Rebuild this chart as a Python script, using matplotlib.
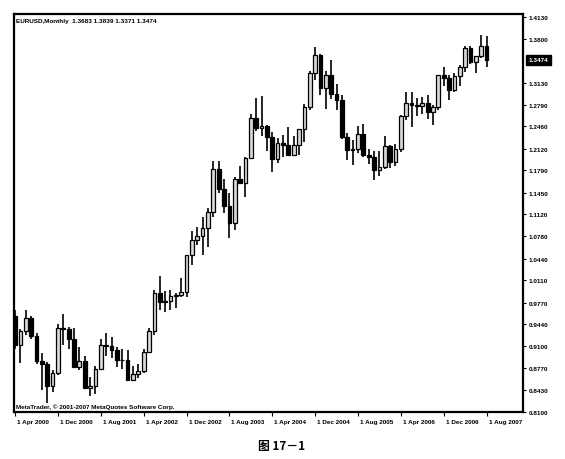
import numpy as np
import matplotlib
matplotlib.use("Agg")
import matplotlib.pyplot as plt
import matplotlib.transforms as mtransforms

# EURUSD monthly, Apr 2000 .. Aug 2007
opens = [0.9570, 0.9120, 0.9330, 0.9530, 0.9260, 0.8880, 0.8830, 0.8490, 0.8700,
         0.9390, 0.9370, 0.9210, 0.8780, 0.8880, 0.8460, 0.8490, 0.8760, 0.9120, 0.9110, 0.9040, 0.8900,
         0.8900, 0.8590, 0.8680, 0.8720, 0.9020, 0.9330, 0.9910, 0.9780, 0.9790, 0.9870, 0.9880, 0.9930,
         1.0490, 1.0730, 1.0780, 1.0910, 1.1160, 1.1810, 1.1500, 1.1240, 1.0990, 1.1650, 1.1590, 1.1980,
         1.2590, 1.2440, 1.2470, 1.2300, 1.1970, 1.2200, 1.2180, 1.2030, 1.2180, 1.2420, 1.2760, 1.3270,
         1.3550, 1.3040, 1.3250, 1.2950, 1.2870, 1.2300, 1.2100, 1.2120, 1.2340, 1.2030, 1.1990, 1.1790,
         1.1840, 1.2160, 1.1920, 1.2120, 1.2620, 1.2810, 1.2790, 1.2770, 1.2810, 1.2680, 1.2760, 1.3240,
         1.3200, 1.3010, 1.3230, 1.3360, 1.3660, 1.3450, 1.3540, 1.3683]
highs = [0.9660, 0.9360, 0.9650, 0.9570, 0.9300, 0.9000, 0.8870, 0.8740, 0.9450,
         0.9590, 0.9400, 0.9390, 0.9090, 0.8950, 0.8640, 0.8800, 0.9220, 0.9300, 0.9240, 0.9090, 0.9060,
         0.9040, 0.8800, 0.8840, 0.9060, 0.9380, 0.9960, 1.0180, 0.9940, 0.9960, 0.9910, 1.0150, 1.0500,
         1.0870, 1.0930, 1.1080, 1.1220, 1.1930, 1.1930, 1.1650, 1.1440, 1.1690, 1.1850, 1.2000, 1.2650,
         1.2900, 1.2930, 1.2480, 1.2370, 1.2280, 1.2330, 1.2450, 1.2320, 1.2420, 1.2800, 1.3300, 1.3670,
         1.3560, 1.3300, 1.3480, 1.3100, 1.2940, 1.2360, 1.2260, 1.2470, 1.2500, 1.2120, 1.2090, 1.2090,
         1.2320, 1.2180, 1.2190, 1.2640, 1.2980, 1.2980, 1.2900, 1.2910, 1.2940, 1.2780, 1.3240, 1.3370,
         1.3250, 1.3270, 1.3390, 1.3680, 1.3680, 1.3530, 1.3850, 1.3839]
lows = [0.9060, 0.8850, 0.9280, 0.9210, 0.8840, 0.8440, 0.8230, 0.8410, 0.8660,
        0.9130, 0.9060, 0.8770, 0.8740, 0.8460, 0.8340, 0.8370, 0.8740, 0.8950, 0.8930, 0.8780, 0.8760,
        0.8570, 0.8570, 0.8620, 0.8700, 0.9000, 0.9280, 0.9650, 0.9620, 0.9660, 0.9690, 0.9860, 0.9860,
        1.0340, 1.0650, 1.0500, 1.0620, 1.1080, 1.1440, 1.1140, 1.0760, 1.0880, 1.1590, 1.1380, 1.1960,
        1.2390, 1.2320, 1.2080, 1.1760, 1.1900, 1.1990, 1.2020, 1.2030, 1.2020, 1.2220, 1.2710, 1.3170,
        1.2940, 1.2720, 1.2880, 1.2710, 1.2270, 1.1950, 1.1870, 1.2050, 1.1990, 1.1880, 1.1640, 1.1700,
        1.1810, 1.1830, 1.1860, 1.2070, 1.2560, 1.2450, 1.2620, 1.2650, 1.2580, 1.2480, 1.2710, 1.3070,
        1.2870, 1.2990, 1.3080, 1.3290, 1.3410, 1.3270, 1.3510, 1.3371]
closes = [0.9120, 0.9330, 0.9530, 0.9260, 0.8880, 0.8830, 0.8490, 0.8700, 0.9390,
          0.9370, 0.9210, 0.8780, 0.8880, 0.8460, 0.8490, 0.8760, 0.9120, 0.9110, 0.9040, 0.8900, 0.8900,
          0.8590, 0.8680, 0.8720, 0.9020, 0.9330, 0.9910, 0.9780, 0.9790, 0.9870, 0.9880, 0.9930, 1.0490,
          1.0730, 1.0780, 1.0910, 1.1160, 1.1810, 1.1500, 1.1240, 1.0990, 1.1650, 1.1590, 1.1980, 1.2590,
          1.2440, 1.2470, 1.2300, 1.1970, 1.2200, 1.2180, 1.2030, 1.2180, 1.2420, 1.2760, 1.3270, 1.3550,
          1.3040, 1.3250, 1.2950, 1.2870, 1.2300, 1.2100, 1.2120, 1.2340, 1.2030, 1.1990, 1.1790, 1.1840,
          1.2160, 1.1920, 1.2120, 1.2620, 1.2810, 1.2790, 1.2770, 1.2810, 1.2680, 1.2760, 1.3240, 1.3200,
          1.3010, 1.3230, 1.3360, 1.3660, 1.3450, 1.3540, 1.3680, 1.3474]

price_ticks = [0.8100, 0.8430, 0.8770, 0.9100, 0.9440, 0.9770, 1.0110, 1.0440, 1.0780, 1.1120,
               1.1450, 1.1790, 1.2120, 1.2460, 1.2790, 1.3130, 1.3800, 1.4130]
date_labels = ["1 Apr 2000", "1 Dec 2000", "1 Aug 2001", "1 Apr 2002", "1 Dec 2002", "1 Aug 2003",
               "1 Apr 2004", "1 Dec 2004", "1 Aug 2005", "1 Apr 2006", "1 Dec 2006", "1 Aug 2007"]
date_pos = [0, 8, 16, 24, 32, 40, 48, 56, 64, 72, 80, 88]
last_price = 1.3474

plt.rcParams['font.family'] = ['Liberation Sans', 'DejaVu Sans']

o = np.array(opens)
h = np.array(highs)
l = np.array(lows)
c = np.array(closes)
idx = np.arange(len(o))
up = c >= o

fig = plt.figure(figsize=(5.65, 4.6), dpi=100)
ax = fig.add_axes([14 / 565, 1 - 413 / 460, (523 - 14) / 565, (413 - 15) / 460])

# wicks, then bodies
ax.vlines(idx, l, h, color='black', linewidth=1.2, zorder=2)
ax.bar(idx[up], (c - o)[up], bottom=o[up], width=0.7, facecolor='#d8d8d8',
       edgecolor='black', linewidth=0.9, zorder=3)
ax.bar(idx[~up], (c - o)[~up], bottom=o[~up], width=0.7, facecolor='black',
       edgecolor='black', linewidth=0.9, zorder=3)

ax.set_xlim(-0.2, 94.8)
ax.set_ylim(0.81, 1.4176)

ax.yaxis.tick_right()
ax.set_yticks(price_ticks)
ax.set_yticklabels([f"{v:.4f}" for v in price_ticks], fontsize=4.6, fontweight='bold')
ax.tick_params(axis='y', length=2, width=0.8, pad=2)

ax.set_xticks(date_pos)
ax.set_xticklabels(date_labels, fontsize=4.6, fontweight='bold', ha='left')
ax.tick_params(axis='x', length=3, width=0.8, pad=2)
for lab in ax.get_xticklabels():
    lab.set_transform(lab.get_transform() + mtransforms.ScaledTranslation(2 / 100, 0, fig.dpi_scale_trans))

for side in ['left', 'right', 'top', 'bottom']:
    ax.spines[side].set_linewidth(1.6)

# current price marker
ax.annotate(f"{last_price:.4f}", xy=(1.0, last_price), xycoords=('axes fraction', 'data'),
            xytext=(4, 0), textcoords='offset points', fontsize=4.6, fontweight='bold',
            color='white', va='center', ha='left',
            bbox=dict(boxstyle='square,pad=0.35', facecolor='black', edgecolor='black'))

ax.text(0.004, 0.99, "EURUSD,Monthly  1.3683 1.3839 1.3371 1.3474", transform=ax.transAxes,
        fontsize=4.6, fontweight='bold', va='top', ha='left')
ax.text(0.004, 0.008, "MetaTrader, \u00a9 2001-2007 MetaQuotes Software Corp.", transform=ax.transAxes,
        fontsize=4.6, fontweight='bold', va='bottom', ha='left')

fig.text(282 / 565, 1 - 447 / 460, "图 17－1", ha='center', va='center', fontsize=8.5,
         fontweight='bold', family=['Noto Sans CJK SC', 'DejaVu Sans'])

fig.savefig("out.png", dpi=100)
